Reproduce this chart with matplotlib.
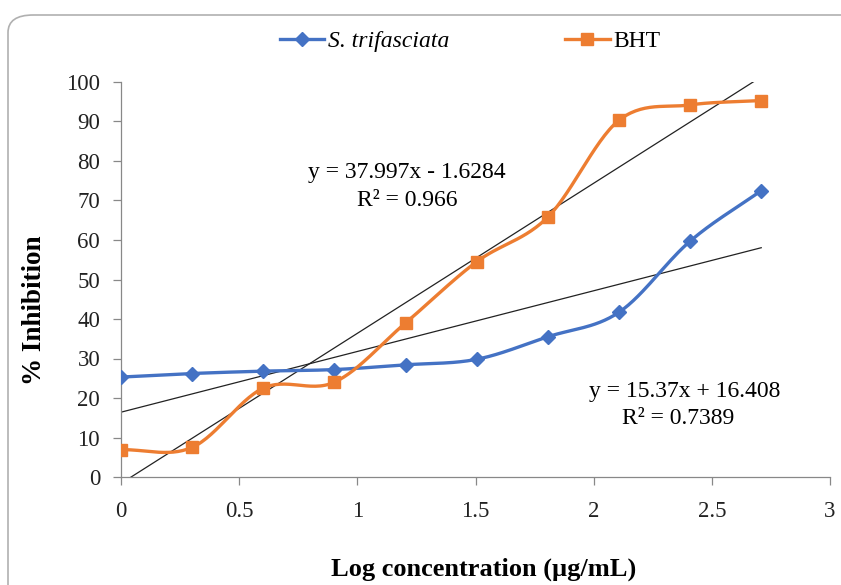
import numpy as np
import matplotlib
matplotlib.use("Agg")
import matplotlib.pyplot as plt
from matplotlib.patches import FancyBboxPatch
from matplotlib.lines import Line2D

log_conc = [0.0, 0.301, 0.602, 0.903, 1.204, 1.505, 1.806, 2.107, 2.408, 2.709]
s_trifasciata = [25.3, 26.2, 26.8, 27.2, 28.4, 29.8, 35.5, 41.7, 59.7, 72.5]
bht = [6.9, 7.5, 22.5, 24.0, 39.0, 54.5, 65.8, 90.3, 94.2, 95.3]
fit_bht = (37.997, -1.6284)
fit_st = (15.37, 16.408)
x_ticks = [0, 0.5, 1, 1.5, 2, 2.5, 3]
y_ticks = [0, 10, 20, 30, 40, 50, 60, 70, 80, 90, 100]

BLUE = "#4472C4"
ORANGE = "#ED7D31"
SERIF = ["Liberation Serif", "DejaVu Serif"]


def smooth(x, y, n=30):
    """Catmull-Rom style smoothing (rendering only, like Excel's smoothed line)."""
    x = np.asarray(x, float)
    y = np.asarray(y, float)
    px = np.concatenate([[2 * x[0] - x[1]], x, [2 * x[-1] - x[-2]]])
    py = np.concatenate([[2 * y[0] - y[1]], y, [2 * y[-1] - y[-2]]])
    xs, ys = [], []
    for i in range(1, len(px) - 2):
        t = np.linspace(0, 1, n, endpoint=False)
        t2, t3 = t * t, t * t * t
        for arr, out in ((px, xs), (py, ys)):
            p0, p1, p2, p3 = arr[i - 1], arr[i], arr[i + 1], arr[i + 2]
            out.append(0.5 * ((2 * p1) + (-p0 + p2) * t + (2 * p0 - 5 * p1 + 4 * p2 - p3) * t2
                              + (-p0 + 3 * p1 - 3 * p2 + p3) * t3))
    xs = np.concatenate(xs + [[x[-1]]])
    ys = np.concatenate(ys + [[y[-1]]])
    return xs, ys


fig = plt.figure(figsize=(8.41, 5.85), dpi=100)
ax = fig.add_axes([121 / 841, 1 - 477 / 585, (830 - 121) / 841, (477 - 82) / 585])

# rounded chart border
fig.patches.append(FancyBboxPatch((8 / 841, -0.05), 1.2, 1 - 15 / 585 + 0.05,
                                  boxstyle="round,pad=0,rounding_size=0.03",
                                  transform=fig.transFigure, facecolor="none",
                                  edgecolor="#b0b0b0", linewidth=1.2, zorder=-1))

sx, sy = smooth(log_conc, s_trifasciata)
bx, by = smooth(log_conc, bht)
ax.plot(sx, sy, color=BLUE, lw=2.4, zorder=3)
ax.plot(log_conc, s_trifasciata, ls="none", marker="D", ms=7, color=BLUE, zorder=4)
ax.plot(bx, by, color=ORANGE, lw=2.4, zorder=3)
ax.plot(log_conc, bht, ls="none", marker="s", ms=9, color=ORANGE, zorder=4)

xt = np.array([log_conc[0], log_conc[-1]])
ax.plot(xt, fit_bht[0] * xt + fit_bht[1], color="#222222", lw=0.9, zorder=2)
ax.plot(xt, fit_st[0] * xt + fit_st[1], color="#222222", lw=0.9, zorder=2)

ax.set_xlim(0, 3)
ax.set_ylim(0, 100)
ax.set_xticks(x_ticks)
ax.set_xticklabels([f"{v:g}" for v in x_ticks])
ax.set_yticks(y_ticks)
for s in ("top", "right"):
    ax.spines[s].set_visible(False)
for s in ("left", "bottom"):
    ax.spines[s].set_color("#888888")
    ax.spines[s].set_linewidth(0.9)
ax.tick_params(direction="out", length=6, width=0.9, color="#888888")
ax.tick_params(axis="x", pad=11)
ax.tick_params(axis="y", pad=9)
for lab in ax.get_xticklabels() + ax.get_yticklabels():
    lab.set_fontfamily(SERIF)
    lab.set_fontsize(16.5)
    lab.set_color("#222222")

fig.text(484 / 841, 1 - 569 / 585, "Log concentration (µg/mL)", ha="center", va="center",
         fontsize=19, fontweight="bold", family=SERIF)
fig.text(35 / 841, 1 - 310 / 585, "% Inhibition", ha="center", va="center", rotation=90,
         fontsize=19.5, fontweight="bold", family=SERIF)

ax.text(407 / 841, 1 - 172 / 585, "y = 37.997x - 1.6284", transform=fig.transFigure,
        ha="center", va="center", fontsize=17, family=SERIF)
ax.text(407 / 841, 1 - 200 / 585, "R² = 0.966", transform=fig.transFigure,
        ha="center", va="center", fontsize=17, family=SERIF)
ax.text(685 / 841, 1 - 391 / 585, "y = 15.37x + 16.408", transform=fig.transFigure,
        ha="center", va="center", fontsize=17, family=SERIF)
ax.text(678 / 841, 1 - 419 / 585, "R² = 0.7389", transform=fig.transFigure,
        ha="center", va="center", fontsize=17, family=SERIF)

# legend
h1 = Line2D([], [], color=BLUE, lw=2.4, marker="D", ms=7)
h2 = Line2D([], [], color=ORANGE, lw=2.4, marker="s", ms=9)
leg = fig.legend([h1, h2], ["S. trifasciata", "BHT"], loc="center",
                 bbox_to_anchor=(470 / 841, 1 - 41 / 585), ncol=2, frameon=False,
                 handlelength=1.9, columnspacing=4.9, handletextpad=0.15,
                 prop={"family": SERIF, "size": 17})
leg.get_texts()[0].set_fontstyle("italic")

fig.savefig("out.png", dpi=100)
